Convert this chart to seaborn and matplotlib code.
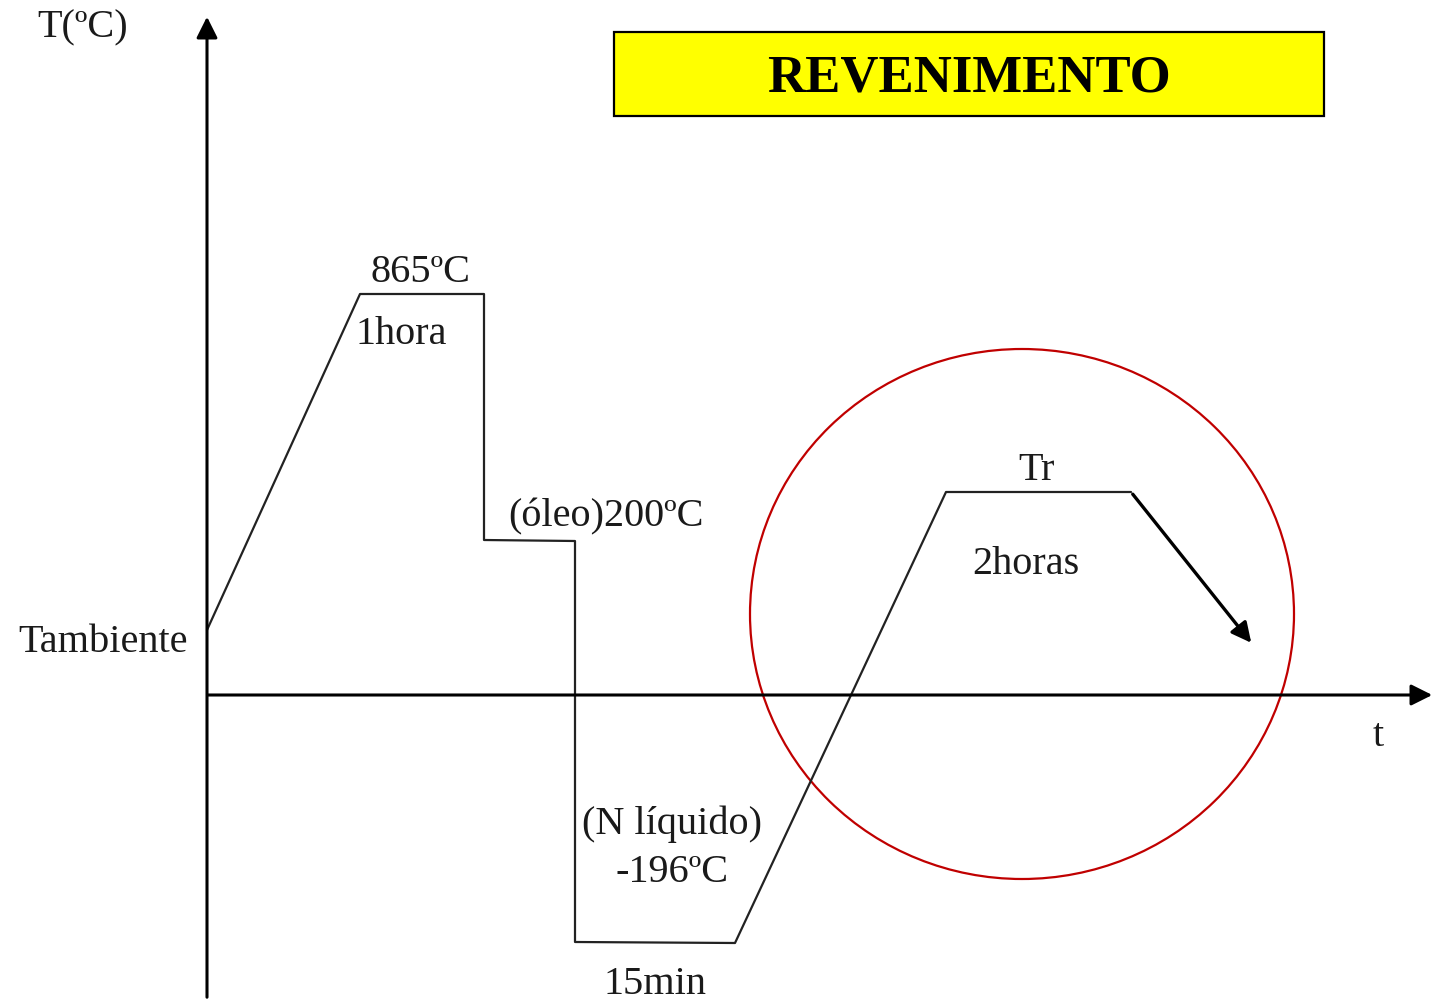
import pandas as pd
import seaborn as sns
import matplotlib.pyplot as plt
from matplotlib.patches import Ellipse, Rectangle

# Heat treatment path (schematic units, y grows downward like the drawing)
path_t = [207, 360, 484, 484, 575, 575, 735, 946, 1131]
path_T = [630, 294, 294, 540, 541, 942, 943, 492, 492]
cool_end = (1253, 645)

# Labels: text, x, y
label_text = ["T(ºC)", "865ºC", "1hora", "(óleo)200ºC", "Tambiente", "Tr",
              "2horas", "t", "(N líquido)", "-196ºC", "15min"]
label_x = [83, 420, 401, 606, 103, 1037, 1026, 1378, 672, 672, 655]
label_y = [28, 272, 335, 517, 642, 471, 564, 737, 824, 873, 984]

title = "REVENIMENTO"

sns.set_theme(style="white")
plt.rcParams['font.family'] = ['Liberation Serif', 'DejaVu Serif']

fig = plt.figure(figsize=(14.35, 10), dpi=100)
ax = fig.add_axes([0, 0, 1, 1])
ax.set_xlim(0, 1435)
ax.set_ylim(1000, 0)
ax.axis('off')

# Axes of the diagram
ax.annotate("", xy=(207, 14), xytext=(207, 1000), annotation_clip=False,
            arrowprops=dict(arrowstyle='-|>', color='black', lw=2.2, mutation_scale=32))
ax.annotate("", xy=(1435, 695), xytext=(205, 695), annotation_clip=False,
            arrowprops=dict(arrowstyle='-|>', color='black', lw=2.2, mutation_scale=32))

# Path
df = pd.DataFrame({"t": path_t, "T": path_T})
sns.lineplot(data=df, x="t", y="T", sort=False, estimator=None, color='#222222',
             lw=1.6, ax=ax)
ax.annotate("", xy=cool_end, xytext=(path_t[-1], path_T[-1]),
            arrowprops=dict(arrowstyle='-|>', color='black', lw=2.4, mutation_scale=30))

# Red circle
ax.add_patch(Ellipse((1022, 614), 544, 530, fill=False, edgecolor='#c00000', lw=1.6))

# Title box
ax.add_patch(Rectangle((614, 32), 710, 84, facecolor='#ffff00', edgecolor='black', lw=1.6))
ax.text(969, 78, title, ha='center', va='center', fontsize=38, fontweight='bold',
        color='black')

for s, x, y in zip(label_text, label_x, label_y):
    ax.text(x, y, s, ha='center', va='center', fontsize=29, color='#1a1a1a')

ax.set_xlabel("")
ax.set_ylabel("")
fig.savefig("out.png", dpi=100)
